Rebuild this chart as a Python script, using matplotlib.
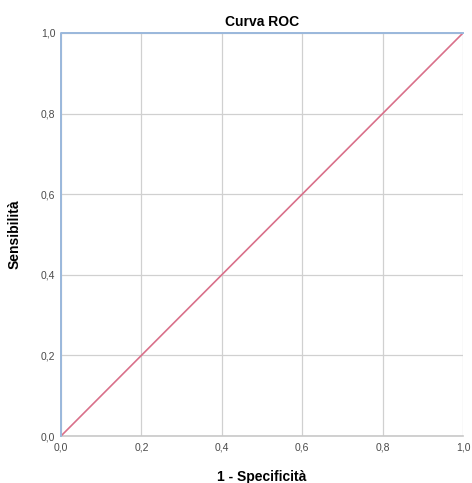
import matplotlib.pyplot as plt
import numpy as np

# curva ROC (1 - specificità, sensibilità)
fpr = [0.0, 0.0, 1.0]
tpr = [0.0, 1.0, 1.0]
ref_x = [0.0, 1.0]
ref_y = [0.0, 1.0]
ticks = [0.0, 0.2, 0.4, 0.6, 0.8, 1.0]
tick_labels = ['0,0', '0,2', '0,4', '0,6', '0,8', '1,0']

plt.rcParams['font.family'] = ['Liberation Sans', 'DejaVu Sans']

fig = plt.figure(figsize=(4.72, 4.83), dpi=100)
ax = fig.add_axes([61 / 472, 47 / 483, 402 / 472, 403 / 483])

ax.grid(True, color='#d0d0d0', linewidth=0.9)
ax.set_axisbelow(True)
ax.plot(ref_x, ref_y, color='#d9708a', linewidth=1.2, zorder=3)
ax.plot(fpr, tpr, color='#9ab8dc', linewidth=1.4, zorder=4, clip_on=False)

ax.set_xlim(0, 1)
ax.set_ylim(0, 1)
ax.set_xticks(ticks)
ax.set_xticklabels(tick_labels)
ax.set_yticks(ticks)
ax.set_yticklabels(tick_labels)
ax.tick_params(length=0, labelsize=7.5, colors='#4a4a4a')
ax.tick_params(axis='x', pad=5)
ax.tick_params(axis='y', pad=4)

for side in ['top', 'right', 'left']:
    ax.spines[side].set_visible(False)
ax.spines['bottom'].set_color('#c8c8c8')
ax.spines['bottom'].set_linewidth(1.2)

ax.set_title('Curva ROC', fontsize=10, fontweight='bold', pad=5)
ax.set_xlabel('1 - Specificità', fontsize=10, fontweight='bold', labelpad=12)
ax.set_ylabel('Sensibilità', fontsize=10, fontweight='bold', labelpad=14)

fig.savefig('out.png', dpi=100)
